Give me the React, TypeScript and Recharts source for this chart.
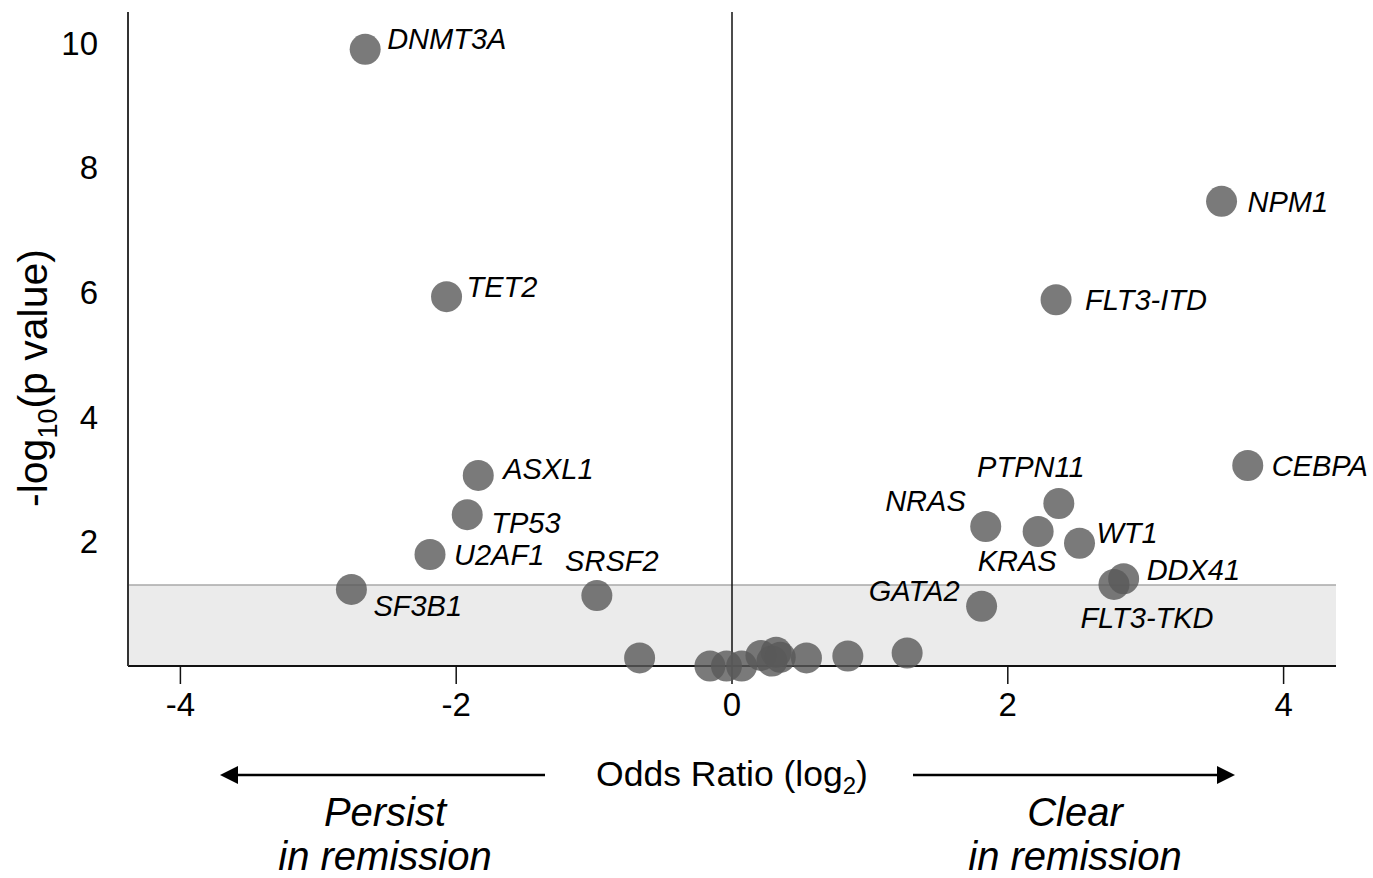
import React from 'react';
import { ScatterChart, Scatter, XAxis, YAxis, ReferenceArea, ReferenceLine } from 'recharts';

// ---- data ----
const genes = ['DNMT3A', 'TET2', 'ASXL1', 'TP53', 'U2AF1', 'SF3B1', 'SRSF2', 'NPM1', 'FLT3-ITD', 'CEBPA', 'PTPN11', 'NRAS', 'KRAS', 'WT1', 'DDX41', 'FLT3-TKD', 'GATA2'];
const oddsRatioLog2 = [-2.66, -2.07, -1.84, -1.92, -2.19, -2.76, -0.98, 3.55, 2.35, 3.74, 2.37, 1.84, 2.22, 2.52, 2.84, 2.77, 1.81];
const negLog10P = [9.9, 5.93, 3.06, 2.43, 1.79, 1.23, 1.13, 7.46, 5.88, 3.22, 2.61, 2.24, 2.16, 1.97, 1.4, 1.31, 0.96];

const otherOddsRatioLog2 = [-0.67, -0.16, -0.04, 0.07, 0.21, 0.32, 0.29, 0.35, 0.54, 0.84, 1.27];
const otherNegLog10P = [0.13, 0.0, 0.0, 0.0, 0.17, 0.22, 0.08, 0.14, 0.13, 0.16, 0.21];

const xTicks = [-4, -2, 0, 2, 4];
const yTicks = [2, 4, 6, 8, 10];
const significanceLevel = 1.301;

// label placement (style, not data)
const labelPlacement: Record<string, { dx: number; dy: number; anchor: 'start' | 'middle' | 'end' }> = {
  DNMT3A: { dx: 22, dy: -11, anchor: 'start' },
  TET2: { dx: 20, dy: -10, anchor: 'start' },
  ASXL1: { dx: 25, dy: -7, anchor: 'start' },
  TP53: { dx: 24, dy: 8, anchor: 'start' },
  U2AF1: { dx: 24, dy: 0, anchor: 'start' },
  SF3B1: { dx: 22, dy: 16, anchor: 'start' },
  SRSF2: { dx: 15, dy: -35, anchor: 'middle' },
  NPM1: { dx: 26, dy: 0, anchor: 'start' },
  'FLT3-ITD': { dx: 29, dy: 0, anchor: 'start' },
  CEBPA: { dx: 24, dy: 0, anchor: 'start' },
  PTPN11: { dx: -28, dy: -37, anchor: 'middle' },
  NRAS: { dx: -20, dy: -26, anchor: 'end' },
  KRAS: { dx: -21, dy: 29, anchor: 'middle' },
  WT1: { dx: 17, dy: -11, anchor: 'start' },
  DDX41: { dx: 23, dy: -9, anchor: 'start' },
  'FLT3-TKD': { dx: 33, dy: 33, anchor: 'middle' },
  GATA2: { dx: -22, dy: -16, anchor: 'end' },
};

const labeledPoints = genes.map((g, i) => ({ gene: g, x: oddsRatioLog2[i], y: negLog10P[i] }));
const otherPoints = otherOddsRatioLog2.map((x, i) => ({ gene: '', x, y: otherNegLog10P[i] }));
const allPoints = [...labeledPoints, ...otherPoints];

const FONT = '"Liberation Sans", Arial, Helvetica, sans-serif';

const Dot = (props: any) => {
  const { cx, cy } = props;
  if (cx == null || cy == null) return null;
  return <circle cx={cx} cy={cy} r={15.5} fill="#595959" fillOpacity={0.8} />;
};

const GeneLabel = (props: any) => {
  const { cx, cy, payload } = props;
  if (cx == null || cy == null || !payload || !payload.gene) return null;
  const p = labelPlacement[payload.gene] || { dx: 22, dy: 0, anchor: 'start' };
  return (
    <text
      x={cx + p.dx}
      y={cy + p.dy}
      dy="0.36em"
      textAnchor={p.anchor}
      fontFamily={FONT}
      fontStyle="italic"
      fontSize={29}
      fill="#000"
    >
      {payload.gene}
    </text>
  );
};

export default function App() {
  return (
    <div style={{ position: 'absolute', left: 0, top: 0, width: 1373, height: 878, background: '#fff', overflow: 'hidden' }}>
      <ScatterChart
        width={1373}
        height={878}
        margin={{ top: 12, right: 37, bottom: 152, left: 28 }}
        style={{ fontFamily: FONT, overflow: 'visible' }}
      >
        <ReferenceArea
          x1={-4.38}
          x2={4.38}
          y1={0}
          y2={significanceLevel}
          fill="#ebebeb"
          fillOpacity={1}
          stroke="none"
        />
        <ReferenceLine y={significanceLevel} stroke="#a8a8a8" strokeWidth={1.5} />
        <ReferenceLine x={0} stroke="#111" strokeWidth={1.5} />
        <XAxis
          type="number"
          dataKey="x"
          domain={[-4.38, 4.38]}
          ticks={xTicks}
          height={60}
          axisLine={{ stroke: '#111', strokeWidth: 2 }}
          tickLine={{ stroke: '#111', strokeWidth: 1.5 }}
          tickSize={18}
          tickMargin={9}
          tick={{ fill: '#000', fontSize: 33, fontFamily: FONT }}
          tickFormatter={(v: number) => (v < 0 ? `-${Math.abs(v)}` : `${v}`)}
        />
        <YAxis
          type="number"
          dataKey="y"
          domain={[0, 10.5]}
          ticks={yTicks}
          width={100}
          axisLine={{ stroke: '#333', strokeWidth: 2 }}
          tickLine={false}
          tickSize={0}
          tickMargin={30}
          tick={{ fill: '#000', fontSize: 33, fontFamily: FONT }}
        />
        <Scatter data={allPoints} shape={<Dot />} isAnimationActive={false} />
        <Scatter data={labeledPoints} shape={<GeneLabel />} isAnimationActive={false} />
      </ScatterChart>

      <svg
        width={1373}
        height={878}
        style={{ position: 'absolute', left: 0, top: 0, pointerEvents: 'none' }}
      >
        {/* y axis title */}
        <text
          transform="translate(47, 378) rotate(-90)"
          textAnchor="middle"
          fontFamily={FONT}
          fontSize={41}
          fill="#000"
        >
          -log
          <tspan fontSize={27} dy={10}>10</tspan>
          <tspan dy={-10}>(p value)</tspan>
        </text>

        {/* x axis title */}
        <text x={732} y={786} textAnchor="middle" fontFamily={FONT} fontSize={35.5} fill="#000">
          Odds Ratio (log
          <tspan fontSize={24} dy={8}>2</tspan>
          <tspan dy={-8}>)</tspan>
        </text>

        {/* arrows */}
        <line x1={234} y1={775} x2={545} y2={775} stroke="#000" strokeWidth={2.5} />
        <polygon points="220,775 238,766 238,784" fill="#000" />
        <line x1={913} y1={775} x2={1221} y2={775} stroke="#000" strokeWidth={2.5} />
        <polygon points="1235,775 1217,766 1217,784" fill="#000" />

        {/* direction captions */}
        <text x={385} y={826} textAnchor="middle" fontFamily={FONT} fontStyle="italic" fontSize={40} fill="#000">Persist</text>
        <text x={385} y={870} textAnchor="middle" fontFamily={FONT} fontStyle="italic" fontSize={40} fill="#000">in remission</text>
        <text x={1075} y={826} textAnchor="middle" fontFamily={FONT} fontStyle="italic" fontSize={40} fill="#000">Clear</text>
        <text x={1075} y={870} textAnchor="middle" fontFamily={FONT} fontStyle="italic" fontSize={40} fill="#000">in remission</text>
      </svg>
    </div>
  );
}
